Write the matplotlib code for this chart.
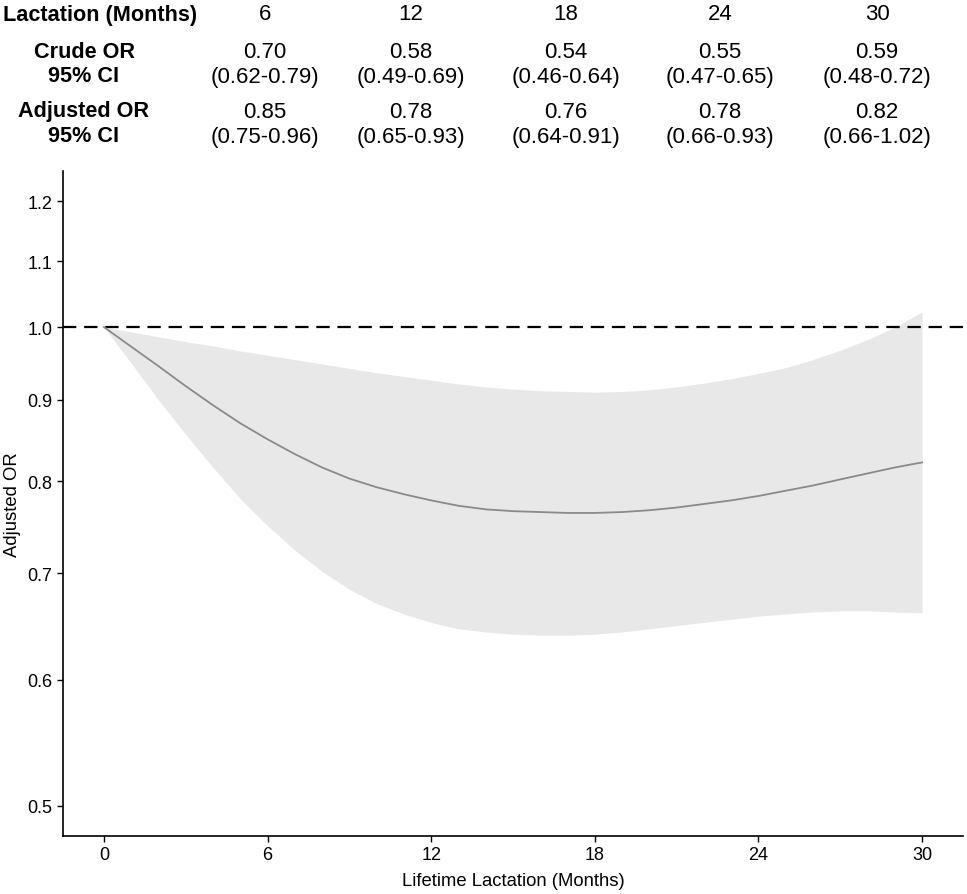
import numpy as np
import matplotlib
matplotlib.use("Agg")
import matplotlib.pyplot as plt
from matplotlib.ticker import FixedLocator, NullLocator, FixedFormatter

plt.rcParams['font.family'] = ['Liberation Sans', 'DejaVu Sans']

# spline fit (months of lifetime lactation)
months = list(range(0, 31))
or_fit = [1.000, 0.972, 0.945, 0.918, 0.893, 0.870, 0.850, 0.832, 0.816, 0.803,
          0.793, 0.785, 0.778, 0.772, 0.768, 0.766, 0.765, 0.764, 0.764, 0.765,
          0.767, 0.770, 0.774, 0.778, 0.783, 0.789, 0.795, 0.802, 0.809, 0.816,
          0.822]
ci_low = [1.000, 0.949, 0.900, 0.856, 0.816, 0.780, 0.750, 0.724, 0.702, 0.684,
          0.670, 0.660, 0.652, 0.646, 0.643, 0.641, 0.640, 0.640, 0.641, 0.643,
          0.646, 0.649, 0.652, 0.655, 0.658, 0.660, 0.662, 0.663, 0.663, 0.662,
          0.661]
ci_high = [1.000, 0.993, 0.986, 0.979, 0.973, 0.966, 0.960, 0.954, 0.948, 0.942,
           0.936, 0.931, 0.926, 0.921, 0.917, 0.914, 0.912, 0.911, 0.910, 0.911,
           0.913, 0.917, 0.922, 0.928, 0.935, 0.943, 0.954, 0.967, 0.982, 1.000,
           1.022]

# table above the plot
tab_months = ["6", "12", "18", "24", "30"]
crude_or = ["0.70", "0.58", "0.54", "0.55", "0.59"]
crude_ci = ["(0.62-0.79)", "(0.49-0.69)", "(0.46-0.64)", "(0.47-0.65)", "(0.48-0.72)"]
adj_or = ["0.85", "0.78", "0.76", "0.78", "0.82"]
adj_ci = ["(0.75-0.96)", "(0.65-0.93)", "(0.64-0.91)", "(0.66-0.93)", "(0.66-1.02)"]

x_ticks = [0, 6, 12, 18, 24, 30]
y_ticks = [0.5, 0.6, 0.7, 0.8, 0.9, 1.0, 1.1, 1.2]

W, H = 967, 895
fig = plt.figure(figsize=(W / 100, H / 100), dpi=100)
ax = fig.add_axes([63 / W, (H - 837) / H, (963 - 63) / W, (837 - 172) / H])

ax.fill_between(months, ci_low, ci_high, color='#e8e8e8', lw=0, zorder=1)
ax.plot(months, or_fit, color='#8a8a8a', lw=1.3, zorder=3)
ax.axhline(1.0, color='black', lw=1.6, ls=(0, (6, 3.5)), zorder=2)

ax.set_yscale('log')
ax.set_xlim(-1.5, 31.5)
ax.set_ylim(np.exp(-0.737), np.exp(0.226))
ax.yaxis.set_major_locator(FixedLocator(y_ticks))
ax.yaxis.set_major_formatter(FixedFormatter([f"{v:.1f}" for v in y_ticks]))
ax.yaxis.set_minor_locator(NullLocator())
ax.set_xticks(x_ticks)

for s in ['top', 'right']:
    ax.spines[s].set_visible(False)
for s in ['left', 'bottom']:
    ax.spines[s].set_linewidth(1.2)
ax.tick_params(axis='both', length=4.5, width=1.0, labelsize=13, colors='black', pad=3)

ax.set_xlabel("Lifetime Lactation (Months)", fontsize=13.3, labelpad=6)
ax.set_ylabel("Adjusted OR", fontsize=13.3, labelpad=5)

# header table, positions in pixels from the top-left
def put(x, y, s, bold=False, ha='center'):
    fig.text(x / W, 1 - y / H, s, ha=ha, va='center',
             fontsize=15.6 if bold else 16,
             fontweight='bold' if bold else 'normal')

col_x = [265, 411, 566, 720, 877]
put(3, 15, "Lactation (Months)", bold=True, ha='left')
put(84, 52, "Crude OR", bold=True)
put(84, 77, "95% CI", bold=True)
put(84, 112, "Adjusted OR", bold=True)
put(84, 137, "95% CI", bold=True)
for i, cx in enumerate(col_x):
    put(cx, 15, tab_months[i])
    put(cx, 52, crude_or[i])
    put(cx, 77, crude_ci[i])
    put(cx, 112, adj_or[i])
    put(cx, 137, adj_ci[i])

fig.savefig("out.png", dpi=100)
